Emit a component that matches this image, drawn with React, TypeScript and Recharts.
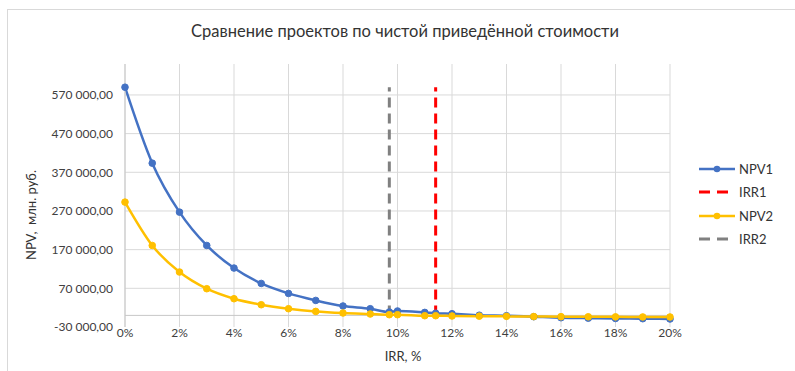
import { CartesianGrid, Line, LineChart, ReferenceLine, XAxis, YAxis } from 'recharts';

// Discount rate, % (IRR points included so the curves pass through them)
const RATES = [0, 1, 2, 3, 4, 5, 6, 7, 8, 9, 9.7, 10, 11, 11.4, 12, 13, 14, 15, 16, 17, 18, 19, 20];
const NPV1 = [
  590000, 393600, 267000, 180800, 122400, 82600, 56800, 38700, 24300, 17300, 8800, 11400, 7700, 5700,
  4400, 500, -800, -3400, -6000, -7200, -8000, -8500, -9300,
];
const NPV2 = [
  292900, 180800, 112100, 69000, 43100, 27600, 17300, 10300, 6200, 3600, 1800, 1800, -800, -800,
  -1500, -2000, -2500, -3000, -3300, -3600, -3800, -4000, -4100,
];
const IRR1 = 11.4;
const IRR2 = 9.7;
const IRR_TOP = 590000;

const X_TICKS = [0, 2, 4, 6, 8, 10, 12, 14, 16, 18, 20];
const Y_TICKS = [-30000, 70000, 170000, 270000, 370000, 470000, 570000];
const Y_MIN = -30000;
const Y_MAX = 650000;

const BLUE = '#4472C4';
const YELLOW = '#FFC000';
const RED = '#FF0000';
const GRAY = '#808080';
const GRID = '#d9d9d9';
const FONT = 'Lato, "Liberation Sans", sans-serif';

const npv1Data = RATES.map((x, i) => ({ x, y: NPV1[i] }));
const npv2Data = RATES.map((x, i) => ({ x, y: NPV2[i] }));
const irr1Data = [
  { x: IRR1, y: 0 },
  { x: IRR1, y: IRR_TOP },
];
const irr2Data = [
  { x: IRR2, y: 0 },
  { x: IRR2, y: IRR_TOP },
];

function formatRub(v: number) {
  const s = Math.abs(v)
    .toString()
    .replace(/\B(?=(\d{3})+(?!\d))/g, ' ');
  return `${v < 0 ? '-' : ''}${s},00`;
}

const LEGEND = [
  { name: 'NPV1', color: BLUE, dashed: false },
  { name: 'IRR1', color: RED, dashed: true },
  { name: 'NPV2', color: YELLOW, dashed: false },
  { name: 'IRR2', color: GRAY, dashed: true },
];

export default function App() {
  return (
    <div
      style={{
        position: 'absolute',
        left: 0,
        top: 0,
        width: 795,
        height: 371,
        overflow: 'hidden',
        background: '#fff',
        fontFamily: FONT,
      }}
    >
      <div
        style={{
          position: 'absolute',
          left: 7,
          top: 9,
          width: 900,
          height: 500,
          border: `1px solid ${GRID}`,
        }}
      />
      <LineChart
        width={795}
        height={371}
        margin={{ top: 64, right: 125, bottom: 14, left: 0 }}
        style={{ position: 'absolute', left: 0, top: 0 }}
      >
        <CartesianGrid horizontal={false} stroke={GRID} />
        {Y_TICKS.filter((t) => t > Y_MIN).map((t) => (
          <ReferenceLine key={t} y={t} stroke={GRID} strokeWidth={1} />
        ))}
        <ReferenceLine y={0} stroke="#c8c8c8" strokeWidth={1} />
        <XAxis
          type="number"
          dataKey="x"
          domain={[0, 20]}
          ticks={X_TICKS}
          interval={0}
          tickFormatter={(v) => `${v}%`}
          axisLine={false}
          tickLine={false}
          tickSize={0}
          tickMargin={1}
          height={30}
          tick={{ fontSize: 12, fill: '#404040', fontFamily: FONT }}
        />
        <YAxis
          type="number"
          dataKey="y"
          domain={[Y_MIN, Y_MAX]}
          ticks={Y_TICKS}
          interval={0}
          tickFormatter={formatRub}
          axisLine={{ stroke: '#c8c8c8' }}
          tickLine={false}
          tickSize={0}
          tickMargin={12}
          width={125}
          tick={{ fontSize: 12, fill: '#404040', fontFamily: FONT }}
        />
        <Line
          data={npv1Data}
          dataKey="y"
          type="monotone"
          stroke={BLUE}
          strokeWidth={2.5}
          dot={{ r: 3.3, fill: BLUE, stroke: BLUE, strokeWidth: 1 }}
          isAnimationActive={false}
        />
        <Line
          data={irr1Data}
          dataKey="y"
          type="linear"
          stroke={RED}
          strokeWidth={3}
          strokeDasharray="10 6"
          dot={false}
          isAnimationActive={false}
        />
        <Line
          data={npv2Data}
          dataKey="y"
          type="monotone"
          stroke={YELLOW}
          strokeWidth={2.5}
          dot={{ r: 3.3, fill: YELLOW, stroke: YELLOW, strokeWidth: 1 }}
          isAnimationActive={false}
        />
        <Line
          data={irr2Data}
          dataKey="y"
          type="linear"
          stroke={GRAY}
          strokeWidth={3}
          strokeDasharray="10 6"
          dot={false}
          isAnimationActive={false}
        />
      </LineChart>

      <div
        style={{
          position: 'absolute',
          left: 0,
          width: 810,
          top: 21,
          textAlign: 'center',
          fontSize: 16.5,
          color: '#333',
          whiteSpace: 'nowrap',
        }}
      >
        Сравнение проектов по чистой приведённой стоимости
      </div>

      <div
        style={{
          position: 'absolute',
          left: 31,
          top: 215,
          transform: 'translate(-50%, -50%) rotate(-90deg)',
          fontSize: 13,
          color: '#333',
          whiteSpace: 'pre',
        }}
      >
        {'NPV,  млн. руб.'}
      </div>

      <div
        style={{
          position: 'absolute',
          left: 403,
          top: 356,
          transform: 'translate(-50%, -50%)',
          fontSize: 13,
          color: '#333',
          whiteSpace: 'nowrap',
        }}
      >
        IRR, %
      </div>

      <div style={{ position: 'absolute', left: 699, top: 157 }}>
        {LEGEND.map((item) => (
          <div key={item.name} style={{ display: 'flex', alignItems: 'center', height: 23.5 }}>
            <svg width={40} height={10}>
              {item.dashed ? (
                <line x1={0} y1={5} x2={36} y2={5} stroke={item.color} strokeWidth={3} strokeDasharray="11 7" />
              ) : (
                <>
                  <line x1={0} y1={5} x2={36} y2={5} stroke={item.color} strokeWidth={2.5} />
                  <circle cx={18} cy={5} r={3.3} fill={item.color} />
                </>
              )}
            </svg>
            <span style={{ fontSize: 13, color: '#333' }}>{item.name}</span>
          </div>
        ))}
      </div>
    </div>
  );
}
